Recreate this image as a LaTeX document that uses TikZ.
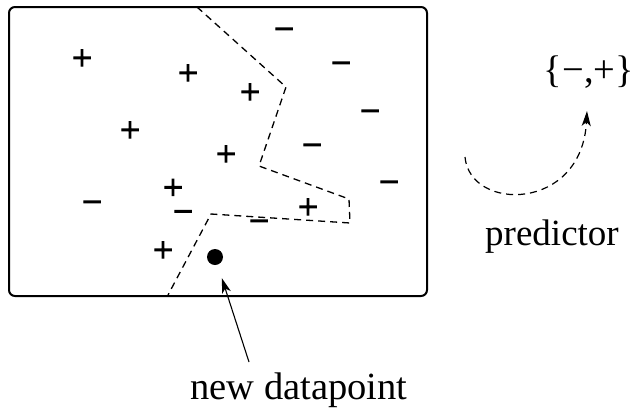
\documentclass[tikz,border=0pt]{standalone}
\usepackage{fontspec}
\setmainfont{Liberation Serif}
\newfontfamily\sgnfont{Liberation Serif}[FakeBold=3.5]
\usetikzlibrary{arrows.meta}
\tikzset{
  lbl/.style={inner sep=0pt, anchor=base, font=\fontsize{38.5}{42}\selectfont},
  sgn/.style={inner sep=0pt, anchor=base, font=\fontsize{35}{38}\sgnfont},
  bound/.style={dashed, dash pattern=on 7pt off 5pt, line width=1.3pt},
  frame/.style={line width=2pt, rounded corners=6pt},
  ptr/.style={line width=1.1pt, -{Stealth[length=15pt,width=9pt,inset=4pt]}}
}
\begin{document}
\begin{tikzpicture}[x=1pt,y=-1pt]
\useasboundingbox (0,0) rectangle (633,408);
% frame
\draw[frame] (9,7) rectangle (427,296);
% decision boundary
\draw[bound] (197,7) -- (286,87) -- (259,166) -- (349,199) -- (350,223) -- (211,214) -- (168,295);
% plus signs
\node[sgn] (p1) at (82,69.5) {+};
\node[sgn] (p2) at (188,84.5) {+};
\node[sgn] (p3) at (250,103.5) {+};
\node[sgn] (p4) at (130,141.5) {+};
\node[sgn] (p5) at (226,165.5) {+};
\node[sgn] (p6) at (173,199) {+};
\node[sgn] (p7) at (308,218.5) {+};
\node[sgn] (p8) at (163,261.5) {+};
% minus signs
\node[sgn] (m1) at (284,40.5) {−};
\node[sgn] (m2) at (341,74.5) {−};
\node[sgn] (m3) at (370,122.5) {−};
\node[sgn] (m4) at (312,156.5) {−};
\node[sgn] (m5) at (389,193.5) {−};
\node[sgn] (m6) at (92,213.5) {−};
\node[sgn] (m7) at (183,223) {−};
\node[sgn] (m8) at (259,232.5) {−};
% new datapoint
\node[circle, fill=black, inner sep=0pt, minimum size=16pt] (dot) at (215,257) {};
\node[lbl] (newdp) at (299,399) {new datapoint};
\coordinate (arrstart) at (249,362);
\draw[ptr, shorten >=14pt] (arrstart) -- (dot);
% predictor
\node[lbl] (set) at (589,82) {\{−,+\}};
\node[lbl, font=\fontsize{37}{40}\selectfont] (pred) at (552,245) {predictor};
\coordinate (cstart) at (465,157);
\coordinate (cend) at (587,111);
\draw[bound, line width=1.2pt, -{Stealth[length=15pt,width=9pt,inset=4pt]}] (cstart) .. controls (470,212) and (582,212) .. (cend);
\end{tikzpicture}
\end{document}
